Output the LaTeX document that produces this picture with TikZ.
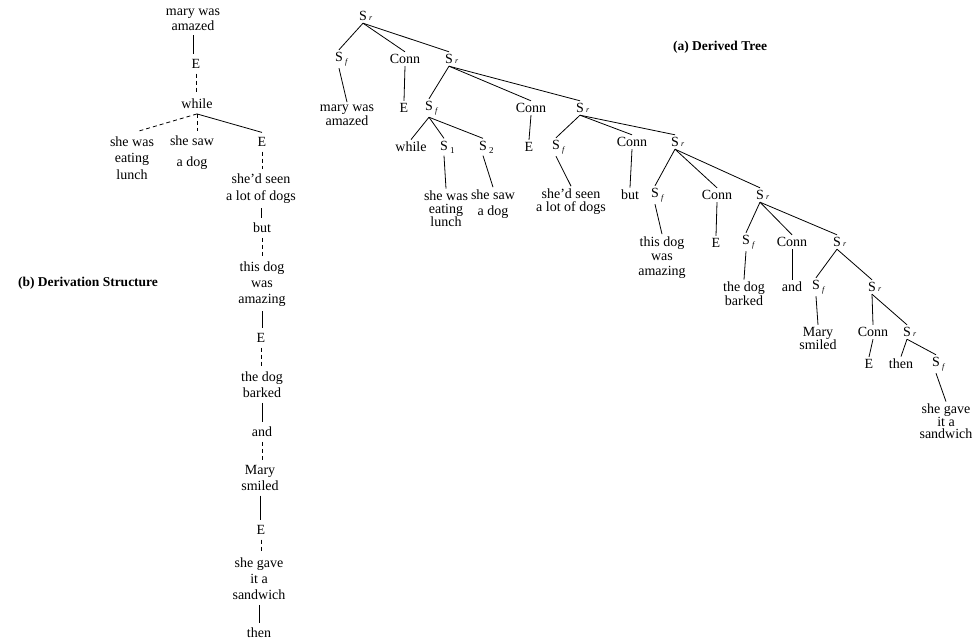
\documentclass[tikz,border=0pt]{standalone}
\usepackage{fontspec}
\setmainfont{Liberation Serif}
\newcommand{\SubR}{S\rlap{\,\raisebox{0.5pt}{\fontsize{8}{8}\selectfont\itshape r}}}
\newcommand{\SubF}{S\rlap{\,\raisebox{-2.5pt}{\fontsize{8}{8}\selectfont\itshape f}}}
\newcommand{\SubN}[1]{S\rlap{\,\raisebox{-3pt}{\fontsize{9}{9}\selectfont #1}}}
\tikzset{
  dn/.style={inner xsep=1pt, inner ysep=5pt, outer sep=0pt, align=center, font=\fontsize{14}{#1}\selectfont},
  dn/.default=16,
  tn/.style={inner xsep=1pt, inner ysep=2.5pt, outer sep=0pt, align=center, font=\fontsize{14}{#1}\selectfont},
  tn/.default=14,
  lab/.style={inner sep=0pt, font=\bfseries\fontsize{13.5}{14}\selectfont},
  ln/.style={line width=0.8pt},
  dl/.style={line width=0.8pt, dash pattern=on 4pt off 3pt}
}
\begin{document}
\begin{tikzpicture}[x=1pt,y=-1pt]
\useasboundingbox (0,0) rectangle (975,640);
% ---------- (b) Derivation structure ----------
\node[lab] (labb) at (88,283) {(b) Derivation Structure};
\node[dn=15] (dA) at (193,19.5) {mary was\\amazed};
\node[dn] (dE1) at (196,64) {E};
\node[dn] (dwhile) at (197,104) {while};
\node[dn=16.5] (dlunch) at (132,158) {she was\\eating\\lunch};
\node[dn=21] (ddog) at (192,152.5) {she saw\\a dog};
\node[dn] (dE2) at (262,142) {E};
\node[dn=17] (dseen) at (261,188.5) {she'd seen\\a lot of dogs};
\node[dn] (dbut) at (262,228) {but};
\node[dn] (damaz) at (262,284) {this dog\\was\\amazing};
\node[dn] (dE3) at (261,338) {E};
\node[dn] (dbark) at (262,385) {the dog\\barked};
\node[dn] (dand) at (262,432) {and};
\node[dn] (dsmile) at (260,478) {Mary\\smiled};
\node[dn] (dE4) at (261,530) {E};
\node[dn] (dsand) at (259,579) {she gave\\it a\\sandwich};
\node[dn] (dthen) at (259,633) {then};
\draw[ln] (dA.south) -- (dA.south |- dE1.north);
\draw[dl] (dE1.south) -- (dE1.south |- dwhile.north);
\draw[dl] (dwhile.south) -- ([xshift=5pt]dlunch.north);
\draw[dl] (dwhile.south) -- (dwhile.south |- ddog.north);
\draw[ln] (dwhile.south) -- (dE2.north);
\draw[dl] (dE2.south) -- (dE2.south |- dseen.north);
\draw[ln] (dseen.south) -- (dseen.south |- dbut.north);
\draw[dl] (dbut.south) -- (dbut.south |- damaz.north);
\draw[ln] (damaz.south) -- (damaz.south |- dE3.north);
\draw[dl] (dE3.south) -- (dE3.south |- dbark.north);
\draw[ln] (dbark.south) -- (dbark.south |- dand.north);
\draw[dl] (dand.south) -- (dand.south |- dsmile.north);
\draw[ln] (dsmile.south) -- (dsmile.south |- dE4.north);
\draw[dl] (dE4.south) -- (dE4.south |- dsand.north);
\draw[ln] (dsand.south) -- (dsand.south |- dthen.north);
% ---------- (a) Derived tree ----------
\node[lab] (laba) at (720,47) {(a) Derived Tree};
\node[tn] (r1) at (363,16) {\SubR};
\node[tn] (f1) at (339,59) {\SubF};
\node[tn] (c1) at (405,59) {Conn};
\node[tn] (r2) at (449,59) {\SubR};
\node[tn] (t1) at (347,115) {mary was\\amazed};
\node[tn] (e1) at (404,108) {E};
\node[tn] (f2) at (429,108) {\SubF};
\node[tn] (c2) at (531,108) {Conn};
\node[tn] (r3) at (580,108) {\SubR};
\node[tn] (w) at (411,147) {while};
\node[tn] (s1) at (444,147) {\SubN{1}};
\node[tn] (s2) at (483,147) {\SubN{2}};
\node[tn] (e2) at (529,147) {E};
\node[tn] (f3) at (556,147) {\SubF};
\node[tn] (c3) at (632,142) {Conn};
\node[tn] (r4) at (675,142) {\SubR};
\node[tn=13] (t2) at (446,209) {she was\\eating\\lunch};
\node[tn=16] (t3) at (493,204) {she saw\\a dog};
\node[tn=13] (t4) at (571,201.5) {she'd seen\\a lot of dogs};
\node[tn] (b) at (630,195) {but};
\node[tn] (f4) at (655,195) {\SubF};
\node[tn] (c4) at (717,195) {Conn};
\node[tn] (r5) at (760,195) {\SubR};
\node[tn=14.5] (t5) at (662,257.5) {this dog\\was\\amazing};
\node[tn] (e3) at (716,243) {E};
\node[tn] (f5) at (746,242) {\SubF};
\node[tn] (c5) at (792,242) {Conn};
\node[tn] (r6) at (837,242) {\SubR};
\node[tn] (t6) at (744,294) {the dog\\barked};
\node[tn] (a) at (792,287) {and};
\node[tn] (f6) at (816,287) {\SubF};
\node[tn] (r7) at (872,287) {\SubR};
\node[tn=13] (t7) at (818,338.5) {Mary\\smiled};
\node[tn] (c6) at (873,332) {Conn};
\node[tn] (r8) at (907,332) {\SubR};
\node[tn] (e4) at (869,364) {E};
\node[tn] (th) at (901,364) {then};
\node[tn] (f7) at (936,364) {\SubF};
\node[tn=12.5] (t8) at (946,421.5) {she gave\\it a\\sandwich};
\foreach \p/\c in {r1/f1,r1/c1,r1/r2,f1/t1,c1/e1,r2/f2,r2/c2,r2/r3,
  f2/w,f2/s1,f2/s2,s1/t2,s2/t3,c2/e2,r3/f3,r3/c3,r3/r4,f3/t4,c3/b,
  r4/f4,r4/c4,r4/r5,f4/t5,c4/e3,r5/f5,r5/c5,r5/r6,f5/t6,c5/a,
  r6/f6,r6/r7,f6/t7,r7/c6,r7/r8,c6/e4,r8/th,r8/f7,f7/t8}
  \draw[ln] (\p.south) -- (\c.north);
\end{tikzpicture}
\end{document}
